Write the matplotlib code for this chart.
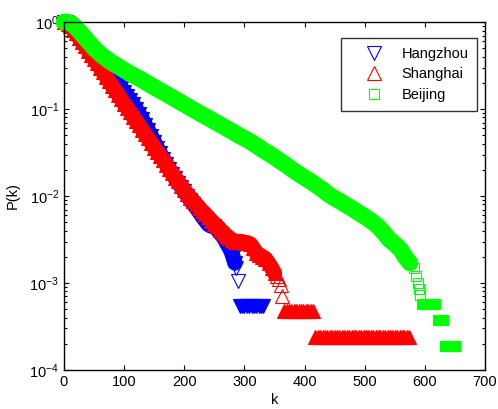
import matplotlib
matplotlib.use("Agg")
import matplotlib.pyplot as plt
from matplotlib.ticker import LogLocator, NullFormatter, MultipleLocator

plt.rcParams['font.family'] = ['Liberation Sans', 'DejaVu Sans']
plt.rcParams['mathtext.fontset'] = 'custom'
plt.rcParams['mathtext.rm'] = 'Liberation Sans'

# Hangzhou (blue): main curve, flat tail row, isolated points
hz_k = [0, 3, 6, 10, 15, 20, 25, 30, 35, 40, 45, 50, 55, 60, 65, 70, 75, 80, 85, 90,
        95, 100, 105, 110, 115, 120, 125, 130, 135, 140, 145, 150, 155, 160, 165, 170,
        175, 180, 185, 190, 195, 200, 205, 210, 215, 220, 225, 230, 235, 240, 245, 250,
        255, 260, 265, 270, 274, 278, 281, 284]
hz_p = [1.0, 1.0, 0.97, 0.92, 0.85, 0.77, 0.7, 0.63, 0.57, 0.52, 0.47, 0.43, 0.39, 0.355,
        0.32, 0.29, 0.265, 0.24, 0.215, 0.195, 0.175, 0.158, 0.142, 0.127, 0.113, 0.1,
        0.088, 0.077, 0.066, 0.057, 0.049, 0.042, 0.036, 0.031, 0.027, 0.0235, 0.0205,
        0.018, 0.016, 0.0142, 0.0127, 0.0113, 0.0101, 0.009, 0.0081, 0.0073, 0.0065,
        0.0058, 0.0052, 0.0047, 0.0045, 0.0045, 0.0041, 0.0037, 0.0034, 0.0029, 0.0026,
        0.0023, 0.002, 0.0017]
hz_tail_k = [292, 296, 300, 304, 308, 312, 316, 320, 324, 328, 331]
hz_tail_p = [5.4e-4, 5.4e-4, 5.4e-4, 5.4e-4, 5.4e-4, 5.4e-4, 5.4e-4, 5.4e-4, 5.4e-4,
             5.4e-4, 5.4e-4]
hz_open_k = [286, 289]
hz_open_p = [0.0015, 0.00105]

# Shanghai (red)
sh_k = [0, 3, 6, 10, 15, 20, 25, 30, 35, 40, 45, 50, 55, 60, 65, 70, 75, 80, 85, 90,
        95, 100, 105, 110, 115, 120, 125, 130, 135, 140, 145, 150, 155, 160, 165, 170,
        175, 180, 185, 190, 195, 200, 205, 210, 215, 220, 225, 230, 235, 240, 245, 250,
        255, 260, 265, 270, 275, 280, 285, 290, 295, 300, 305, 310, 315, 320, 325, 330,
        335, 340, 345, 350]
sh_p = [1.0, 1.0, 0.96, 0.9, 0.82, 0.74, 0.66, 0.59, 0.53, 0.47, 0.42, 0.375, 0.335,
        0.3, 0.265, 0.235, 0.21, 0.185, 0.165, 0.147, 0.13, 0.115, 0.103, 0.092, 0.082,
        0.073, 0.065, 0.058, 0.051, 0.046, 0.041, 0.036, 0.032, 0.029, 0.026, 0.023,
        0.0205, 0.0183, 0.0163, 0.0147, 0.013, 0.0118, 0.0106, 0.0096, 0.0088, 0.008,
        0.0073, 0.0067, 0.0062, 0.0057, 0.0052, 0.0048, 0.0045, 0.0041, 0.0038, 0.0035,
        0.0033, 0.0031, 0.003, 0.003, 0.003, 0.0029, 0.0029, 0.0028, 0.0025, 0.0022,
        0.0021, 0.002, 0.0019, 0.0017, 0.0015, 0.0013]
sh_tail_k = [366, 370, 374, 378, 382, 386, 390, 394, 398, 402, 406, 410, 414,
             418, 422, 426, 430, 434, 438, 442, 446, 450, 454, 458, 462, 466, 470, 474,
             478, 482, 486, 490, 494, 498, 502, 506, 510, 514, 518, 522, 526, 530, 534,
             538, 542, 546, 550, 554, 558, 562, 566, 570, 574]
sh_tail_p = [4.8e-4, 4.8e-4, 4.8e-4, 4.8e-4, 4.8e-4, 4.8e-4, 4.8e-4, 4.8e-4, 4.8e-4,
             4.8e-4, 4.8e-4, 4.8e-4, 4.8e-4,
             2.4e-4, 2.4e-4, 2.4e-4, 2.4e-4, 2.4e-4, 2.4e-4, 2.4e-4, 2.4e-4, 2.4e-4,
             2.4e-4, 2.4e-4, 2.4e-4, 2.4e-4, 2.4e-4, 2.4e-4, 2.4e-4, 2.4e-4, 2.4e-4,
             2.4e-4, 2.4e-4, 2.4e-4, 2.4e-4, 2.4e-4, 2.4e-4, 2.4e-4, 2.4e-4, 2.4e-4,
             2.4e-4, 2.4e-4, 2.4e-4, 2.4e-4, 2.4e-4, 2.4e-4, 2.4e-4, 2.4e-4, 2.4e-4,
             2.4e-4, 2.4e-4, 2.4e-4, 2.4e-4]
sh_open_k = [354, 357, 360, 363]
sh_open_p = [0.0012, 0.0011, 9.5e-4, 7.1e-4]

# Beijing (green)
bj_k = [0, 5, 10, 15, 20, 25, 30, 35, 40, 50, 60, 70, 80, 90, 100, 110, 120, 130, 140,
        150, 160, 170, 180, 190, 200, 210, 220, 230, 240, 250, 260, 270, 280, 290, 300,
        310, 320, 330, 340, 350, 360, 370, 380, 390, 400, 410, 420, 430, 440, 450, 460,
        470, 480, 490, 500, 510, 520, 530, 540, 550, 560, 567, 575]
bj_p = [1.0, 1.0, 0.98, 0.93, 0.86, 0.79, 0.72, 0.66, 0.6, 0.5, 0.43, 0.38, 0.34, 0.31,
        0.28, 0.255, 0.235, 0.215, 0.195, 0.178, 0.163, 0.149, 0.136, 0.124, 0.113,
        0.103, 0.094, 0.086, 0.079, 0.072, 0.066, 0.06, 0.055, 0.05, 0.046, 0.042, 0.038,
        0.034, 0.031, 0.028, 0.025, 0.0225, 0.02, 0.018, 0.0162, 0.0147, 0.0132, 0.0118,
        0.0104, 0.0094, 0.0086, 0.0078, 0.0071, 0.0064, 0.0058, 0.0052, 0.0046, 0.0039,
        0.0032, 0.0028, 0.0024, 0.002, 0.0017]
bj_tail_k = [596, 600, 604, 608, 612, 616, 621, 625, 630, 633, 637, 641, 645, 650]
bj_tail_p = [5.8e-4, 5.8e-4, 5.8e-4, 5.8e-4, 5.8e-4, 5.8e-4, 3.8e-4, 3.8e-4, 3.8e-4,
             1.9e-4, 1.9e-4, 1.9e-4, 1.9e-4, 1.9e-4]
bj_open_k = [582, 586, 589, 591, 592]
bj_open_p = [0.0015, 0.0012, 0.001, 8.5e-4, 7.2e-4]

fig = plt.figure(figsize=(4.98, 4.09), dpi=100)
ax = fig.add_axes([0.1285, 0.0954, 0.8455, 0.8506])

series = [
    (hz_k, hz_p, hz_tail_k, hz_tail_p, hz_open_k, hz_open_p, 'v', 10, 11, (0, 0, 1), 'Hangzhou'),
    (sh_k, sh_p, sh_tail_k, sh_tail_p, sh_open_k, sh_open_p, '^', 10, 11, (1, 0, 0), 'Shanghai'),
    (bj_k, bj_p, bj_tail_k, bj_tail_p, bj_open_k, bj_open_p, 's', 7, 12, (0, 1, 0), 'Beijing'),
]
handles = []
for k, p, tk, tp, ok, op, m, ms, bw, c, lab in series:
    # dense runs of overlapping markers look solid in the original
    ax.plot(k, p, color=c, lw=bw, solid_capstyle='round', solid_joinstyle='round',
            clip_on=False)
    ax.plot(k, p, linestyle='none', marker=m, ms=ms, mfc=c, mec=c, mew=0.8,
            clip_on=False)
    ax.plot(tk, tp, linestyle='none', marker=m, ms=ms, mfc=c, mec=c, mew=0.8,
            clip_on=False)
    h, = ax.plot(ok, op, linestyle='none', marker=m, ms=ms, mfc='none', mec=c,
                 mew=0.8, clip_on=False, label=lab)
    handles.append(h)

ax.set_yscale('log')
ax.set_xlim(0, 700)
ax.set_ylim(1e-4, 1)
ax.xaxis.set_major_locator(MultipleLocator(100))
ax.yaxis.set_major_locator(LogLocator(base=10, numticks=10))
ax.yaxis.set_minor_locator(LogLocator(base=10, subs=range(2, 10), numticks=10))
ax.yaxis.set_minor_formatter(NullFormatter())
ax.tick_params(which='both', direction='in', top=True, right=True, labelsize=10.5,
               width=0.8)
ax.tick_params(which='major', length=3.5)
ax.tick_params(which='minor', length=2)
for s in ax.spines.values():
    s.set_linewidth(1.0)

ax.set_xlabel('k', fontsize=10.5, labelpad=3)
ax.set_ylabel('P(k)', fontsize=10.5, labelpad=7)

leg = ax.legend(handles=handles, loc='upper right', bbox_to_anchor=(0.981, 0.954),
                borderaxespad=0, fancybox=False, edgecolor='black', fontsize=10.5,
                numpoints=1, handlelength=3.3, handletextpad=0.25, borderpad=0.6,
                labelspacing=0.45)
leg.get_frame().set_linewidth(1.0)

fig.savefig('out.png', dpi=100)
